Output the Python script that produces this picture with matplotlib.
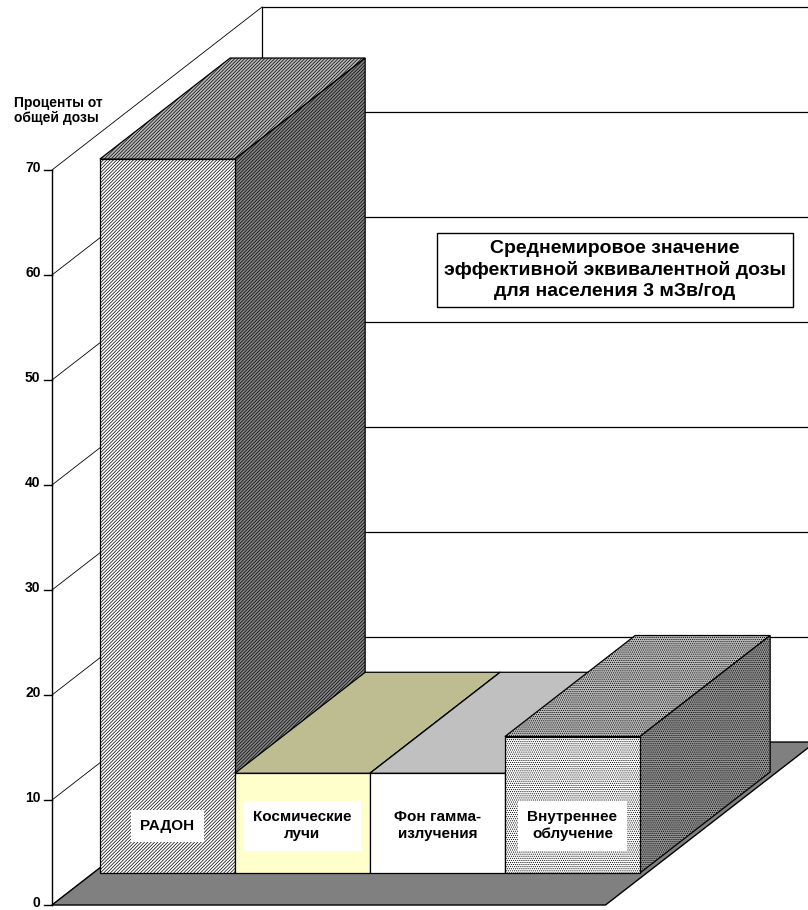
import matplotlib.pyplot as plt
from matplotlib.patches import Polygon
import numpy as np

plt.rcParams['font.family'] = ['Liberation Sans', 'DejaVu Sans']
plt.rcParams['hatch.linewidth'] = 0.5

# --- data ---
categories = ['РАДОН', 'Космические\nлучи', 'Фон гамма-\nизлучения', 'Внутреннее\nоблучение']
values = [68, 9.5, 9.5, 13]
front_colors = ['#ffffff', '#ffffcc', '#ffffff', '#ffffff']
top_colors = ['#b8b8b8', '#bdbd91', '#c0c0c0', '#bcbcbc']
side_colors = ['#858585', '#8f8f6a', '#969696', '#929292']
hatches = ['//////////', None, None, '........']
label_boxes = [True, True, False, True]

y_ticks = np.arange(0, 80, 10)
y_title = 'Проценты от\nобщей дозы'
note = 'Среднемировое значение\nэффективной эквивалентной дозы\nдля населения 3 мЗв/год'

# oblique 3D projection: depth fraction d shifts a point right and up
DX, DY = 1.556, 15.52
D_FRONT, D_BACK = 0.196, 0.816
X_LO, X_HI = -0.55, 3.55
BAR_W = 1.0


def proj(x, d, v):
    return (x + d * DX, v + d * DY)


def face(ax, pts, fc, hatch=None, z=2, lw=0.9):
    ax.add_patch(Polygon(pts, closed=True, facecolor=fc, edgecolor='black',
                         lw=lw, hatch=hatch, zorder=z))


fig = plt.figure(figsize=(8.08, 9.10), dpi=100)
ax = fig.add_axes([0, 0, 1, 1])
ax.set_xlim(-0.935, 5.050)
ax.set_ylim(-0.476, 86.19)
ax.axis('off')

vmax = y_ticks[-1]

# back wall gridlines and left edge
for v in y_ticks[1:]:
    (u0, w0), (u1, w1) = proj(X_LO, 1, v), proj(X_HI, 1, v)
    ax.plot([u0, u1], [w0, w1], color='black', lw=0.9, zorder=1)
(u0, w0), (u1, w1) = proj(X_LO, 1, 0), proj(X_LO, 1, vmax)
ax.plot([u0, u1], [w0, w1], color='black', lw=0.9, zorder=1)

# side wall gridlines
for v in y_ticks:
    (u0, w0), (u1, w1) = proj(X_LO, 0, v), proj(X_LO, 1, v)
    ax.plot([u0, u1], [w0, w1], color='black', lw=0.6, zorder=1)

# value axis
ax.plot([X_LO, X_LO], [0, vmax], color='black', lw=1.0, zorder=1)
for v in y_ticks:
    ax.plot([X_LO - 0.06, X_LO], [v, v], color='black', lw=1.0, zorder=1)
    ax.text(X_LO - 0.085, v + 0.2, str(v), ha='right', va='center',
            fontsize=10, fontweight='bold')

# floor
face(ax, [proj(X_LO, 0, 0), proj(X_HI, 0, 0), proj(X_HI, 1, 0), proj(X_LO, 1, 0)],
     '#808080', z=1.5, lw=1.0)

# bars, left to right so each one hides the previous side face
for i, v in enumerate(values):
    x0, x1 = i - BAR_W / 2, i + BAR_W / 2
    z = 3 + i
    face(ax, [proj(x0, D_FRONT, v), proj(x1, D_FRONT, v),
              proj(x1, D_BACK, v), proj(x0, D_BACK, v)],
         top_colors[i], hatches[i], z)
    face(ax, [proj(x1, D_FRONT, 0), proj(x1, D_BACK, 0),
              proj(x1, D_BACK, v), proj(x1, D_FRONT, v)],
         side_colors[i], hatches[i], z)
    face(ax, [proj(x0, D_FRONT, 0), proj(x1, D_FRONT, 0),
              proj(x1, D_FRONT, v), proj(x0, D_FRONT, v)],
         front_colors[i], hatches[i], z)
    u, w = proj(i, D_FRONT, 4.5)
    box = dict(boxstyle='square,pad=0.6', fc='white', ec='none') if label_boxes[i] else None
    ax.text(u, w, categories[i], ha='center', va='center', fontsize=11,
            fontweight='bold', linespacing=1.3, bbox=box, zorder=10)

ax.text(14 / 808, 1 - 96 / 910, y_title, transform=ax.transAxes, ha='left',
        va='top', fontsize=10, fontweight='bold', linespacing=1.1)

ax.text(615 / 808, 1 - 270 / 910, note, transform=ax.transAxes, ha='center',
        va='center', fontsize=14, fontweight='bold', linespacing=1.3,
        bbox=dict(boxstyle='square,pad=0.35', fc='white', ec='black', lw=1.0),
        zorder=10)

fig.savefig('out.png', dpi=100)
